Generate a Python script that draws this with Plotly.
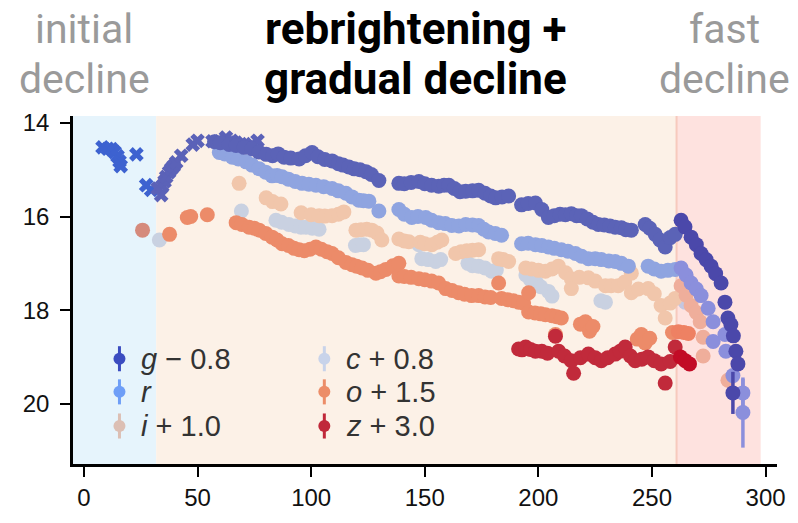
import plotly.graph_objects as go

# ---------------- data (plotted magnitudes, offsets already applied) ----------------
g_cross_t = [8.2, 10.5, 12.2, 13.5, 14.8, 15.7, 16.2, 23.1, 27.4, 29.6,
             32.5, 34.0, 34.5, 35.5, 36.2, 37.5, 38.4, 39.5, 40.6, 42.8, 47.9, 50.0,
             56.6, 59.0, 62.5, 65.0, 66.9, 69.0, 71.3, 74.0, 76.4]
g_cross_m = [14.52, 14.55, 14.56, 14.62, 14.71, 14.82, 14.92, 14.67, 15.33, 15.43,
             15.40, 15.54, 15.35, 15.25, 15.15, 15.05, 14.98, 14.92, 14.84, 14.70, 14.46, 14.38,
             14.39, 14.40, 14.31, 14.38, 14.42, 14.45, 14.49, 14.45, 14.38]

g_t = [57.5, 60, 63.9, 67, 70.5, 74, 77, 80.2, 83, 85.5, 88.1, 91, 94.7, 97.5, 100.4, 103, 106,
       109.2, 112, 114, 116.6, 119, 121.5, 124.1, 126.5, 129.8, 138.6, 141, 144, 147.4, 150, 153,
       156.1, 158.5, 160.6, 163, 165.5, 168, 171, 173.7, 176.5, 179, 181.2, 184, 186.9, 192.6,
       195.5, 198.7, 201.5, 204.4, 207, 209.5, 211.9, 214.5, 216.8, 218.9, 221.5, 224, 226.4, 229,
       231.5, 233.8, 236.5, 238.5, 240.9, 247.0, 249, 251.4, 253.5, 255.8, 258, 260.2,
       262.8, 264.5, 267.2, 269.5, 271.6, 273.8, 276.0, 278, 280.4, 282.1, 283.4, 284.7, 285.8,
       286.9, 287.8, 285.6]
g_m = [14.40, 14.42, 14.46, 14.48, 14.52, 14.55, 14.62, 14.67, 14.70, 14.66, 14.73, 14.75, 14.77,
       14.70, 14.63, 14.72, 14.78, 14.81, 14.87, 14.90, 14.94, 14.98, 15.00, 15.04, 15.10, 15.23,
       15.29, 15.30, 15.27, 15.25, 15.30, 15.33, 15.35, 15.33, 15.33, 15.40, 15.47, 15.46, 15.45,
       15.44, 15.50, 15.56, 15.60, 15.58, 15.56, 15.75, 15.72, 15.71, 15.85, 16.02, 15.98, 15.95,
       15.96, 15.94, 15.98, 15.98, 16.05, 16.12, 16.17, 16.18, 16.20, 16.23, 16.24, 16.28, 16.29,
       16.17, 16.25, 16.38, 16.50, 16.65, 16.45, 16.38,
       16.08, 16.22, 16.44, 16.60, 16.79, 16.92, 17.06, 17.22, 17.42, 17.83, 18.17, 18.31, 18.55,
       18.88, 19.15, 19.77]
g_err = [0] * (len(g_t) - 1) + [0.45]

r_t = [59.6, 62, 65.3, 68, 71.4, 74, 77.1, 80, 82.8, 85, 87.2, 90, 93, 96.0, 99, 102.1, 105.5,
       109.2, 112, 115.3, 118, 121.0, 123, 125.4, 129.8, 138.6, 141, 144.3, 147, 150.4, 153, 156.1,
       159, 161.9, 165, 168.0, 171, 173.7, 176, 178.1, 181, 183.8, 192.6, 195.5, 198.7, 201.5,
       204.4, 207, 210.1, 213, 216.3, 219, 222.0, 225, 227.7, 231, 233.8, 236.5, 239.6, 248.3, 251,
       254.0, 257, 260.2,
       262.8, 265, 267.2, 269.5, 271.6, 274.7, 276.9, 276.9, 282.1, 282.5, 285.6, 290.0, 290.0]
r_m = [14.63, 14.66, 14.73, 14.77, 14.83, 14.90, 14.98, 15.05, 15.13, 15.12, 15.15, 15.20, 15.25,
       15.29, 15.31, 15.33, 15.36, 15.40, 15.45, 15.50, 15.58, 15.65, 15.66, 15.67, 15.88, 15.85,
       15.95, 16.02, 16.00, 16.02, 16.08, 16.13, 16.15, 16.19, 16.20, 16.17, 16.18, 16.19, 16.27,
       16.33, 16.36, 16.40, 16.58, 16.57, 16.60, 16.62, 16.65, 16.68, 16.71, 16.74, 16.79, 16.85,
       16.90, 16.90, 16.92, 16.95, 16.96, 17.00, 17.06, 17.06, 17.12, 17.17, 17.15, 17.13,
       17.10, 17.25, 17.42, 17.55, 17.69, 17.96, 18.25, 18.67, 18.52, 18.88, 19.40, 19.77, 20.19]
r_err = [0] * (len(r_t) - 2) + [0.3, 0.75]

i_t = [68.3, 80.2, 83, 86.7, 95.6, 100, 103.5, 106, 109.2, 112, 114.4, 119.7, 122, 124.5, 126.7,
       129, 131.1, 138.6, 141, 143.0, 148, 150, 153.1, 155.5, 157.5, 163.6, 166, 168.5, 171, 173.7,
       182.5, 184.5, 186.9, 194.4, 197, 200, 203.1, 206, 208.8, 212, 214.5, 214.5, 218, 222.0, 225,
       229.5, 232, 235.1, 238, 240.9, 240.9, 244, 248.3, 251, 254.0, 255.8, 258, 260.2,
       262.8, 265, 267.2, 269.5, 271.2, 272.5, 272.5, 283.4]
i_m = [15.29, 15.60, 15.68, 15.73, 15.92, 15.96, 15.98, 15.99, 15.98, 15.95, 15.90, 16.29, 16.28,
       16.27, 16.29, 16.35, 16.50, 16.48, 16.52, 16.54, 16.55, 16.58, 16.60, 16.55, 16.50, 16.79,
       16.75, 16.73, 16.72, 16.71, 16.90, 16.92, 16.96, 17.10, 17.12, 17.15, 17.17, 17.12, 17.06,
       17.20, 17.33, 17.54, 17.30, 17.31, 17.38, 17.48, 17.48, 17.48, 17.40, 17.21, 17.63, 17.55,
       17.54, 17.65, 17.90, 18.17, 17.85, 17.75,
       17.48, 17.68, 17.90, 18.05, 18.25, 18.58, 18.98, 19.50]

c_t = [33.2, 69.3, 84.5, 87, 90.2, 93, 95.5, 97.7, 100.5, 103.5, 119.5, 121.0, 123, 147.4, 148.7,
       151.5, 154.8, 157, 169, 171, 173.7, 176.5, 179.4, 181.5, 194.5, 196.5, 199, 201, 204.4, 206,
       227.5, 229.5, 264.6]
c_m = [16.50, 15.88, 16.08, 16.12, 16.17, 16.20, 16.23, 16.23, 16.25, 16.27, 16.62, 16.60, 16.60,
       16.60, 16.90, 16.92, 16.96, 16.92, 17.00, 17.05, 17.06, 17.10, 17.17, 17.14, 17.25, 17.35,
       17.40, 17.50, 17.60, 17.70, 17.80, 17.83, 17.83]

o_t = [25.8, 37.7, 45.5, 47, 54.3, 67.0, 69.5, 72.7, 75, 77.1, 80, 82.8, 85, 87.2, 90, 92.5, 94.7,
       97, 99.5, 102.1, 104.5, 107, 109.2, 112, 115.3, 118, 120, 122.4, 125, 128.5, 130.5, 132.9,
       136, 138.6, 138.6, 141, 144, 147.4, 150, 153, 156.1, 159.2, 162, 164.9, 167.5, 170.6, 173.7,
       176.5, 179, 182.5, 183.8, 186.5, 189, 191.3, 193.5, 195.7, 195.7, 198.5, 201, 203.1, 206,
       208, 210.1, 207.5, 218.5, 220.7, 222.5, 224, 243.5, 245.3, 247, 249, 259, 261.6, 264, 266]
o_m = [16.29, 16.38, 16.02, 16.00, 15.96, 16.13, 16.17, 16.23, 16.25, 16.29, 16.36, 16.44, 16.50,
       16.58, 16.62, 16.68, 16.71, 16.73, 16.70, 16.65, 16.70, 16.75, 16.79, 16.88, 16.98, 17.03,
       17.06, 17.10, 17.15, 17.21, 17.18, 17.13, 17.05, 17.00, 17.27, 17.28, 17.30, 17.33, 17.35,
       17.38, 17.42, 17.54, 17.58, 17.63, 17.66, 17.69, 17.69, 17.72, 17.73, 17.42, 17.75, 17.78,
       17.80, 17.83, 17.85, 17.63, 18.04, 18.06, 18.08, 18.10, 18.12, 18.14, 18.17, 18.52, 18.30,
       18.25, 18.45, 18.35, 18.62, 18.52, 18.70, 18.60, 18.48, 18.46, 18.48, 18.50]

z_t = [191.3, 192.8, 194.4, 196.5, 198.7, 201.5, 204, 207.5, 208.9, 211.5, 214.5, 215.5, 218.5,
       222.0, 225, 227.7, 230.5, 233.8, 236, 238.2, 240.5, 242.6, 245.5, 248.3, 251, 254.0, 255.8,
       258, 260.2, 262.5, 264.6, 266.5]
z_m = [18.83, 18.85, 18.79, 18.84, 18.88, 18.88, 18.92, 18.56, 18.88, 18.98, 19.08, 19.35, 19.02,
       18.94, 19.02, 19.08, 19.02, 18.94, 18.88, 18.79, 18.98, 19.08, 19.05, 19.00, 19.08, 19.15,
       19.56, 19.10, 18.79, 19.00, 19.08, 19.15]

legend_labels = ["<i>g</i> − 0.8", "<i>r</i>", "<i>i</i> + 1.0",
                 "<i>c</i> + 0.8", "<i>o</i> + 1.5", "<i>z</i> + 3.0"]
legend_colors = ["#3b4cc0", "#6e9ef7", "#dcbfb4", "#c8d3ea", "#ec8d68", "#c0283a"]

x_ticks = [0, 50, 100, 150, 200, 250, 300]
y_ticks = [14, 16, 18, 20]
phase_edges = [-4.8, 31.8, 260.8, 297.8]
phase_titles = [["initial", "decline"], ["rebrightening +", "gradual decline"], ["fast", "decline"]]

# ---------------- styling ----------------
FONT = "Liberation Sans"
T_FAST = phase_edges[2]
T_EARLY = phase_edges[1]


def colors_for(ts, base, fast, early=None):
    out = []
    for t in ts:
        if t >= T_FAST:
            out.append(fast)
        elif early is not None and t < T_EARLY:
            out.append(early)
        else:
            out.append(base)
    return out


fig = go.Figure()

# phase shading
shade_cols = ["#e6f4fc", "#fcf1e7", "#fee2df"]
for k in range(3):
    fig.add_shape(type="rect", xref="x", yref="paper", x0=phase_edges[k], x1=phase_edges[k + 1],
                  y0=0, y1=1, fillcolor=shade_cols[k], line_width=0, layer="below")
fig.add_shape(type="line", xref="x", yref="paper", x0=phase_edges[2], x1=phase_edges[2],
              y0=0, y1=1, line=dict(color="#f7cabd", width=2), layer="below")

MS = 15


def add_series(ts, ms, cols, symbol="circle", err=None, size=MS):
    kw = {}
    if err is not None:
        kw["error_y"] = dict(type="data", array=err, visible=True, thickness=3.5, width=0,
                             color=cols[-1])
    fig.add_trace(go.Scatter(x=ts, y=ms, mode="markers", showlegend=False, hoverinfo="skip",
                             marker=dict(size=size, color=cols, symbol=symbol, line_width=0), **kw))


# draw order (bottom to top)
add_series(c_t, c_m, colors_for(c_t, "#c9d1e1", "#c4c6e0", "#c8d3e6"))
add_series(i_t, i_m, colors_for(i_t, "#f1c6ab", "#efae9b"))
add_series(o_t, o_m, colors_for(o_t, "#ec8b69", "#ee8163", "#d58a7c"))
add_series(z_t, z_m, colors_for(z_t, "#c12a3b", "#c20c26"))
add_series(r_t, r_m, colors_for(r_t, "#8fa4e0", "#8b8fdc"), err=r_err)
add_series(g_cross_t, g_cross_m, colors_for(g_cross_t, "#5b62b8", "#5b62b8", "#3d62d0"),
           symbol="x", size=13)
add_series(g_t, g_m, colors_for(g_t, "#5b63b7", "#4b48aa"), err=g_err)

# ---------------- custom legend (overlay axes in 0..1 units) ----------------
leg_key_x = [0.066, 0.066, 0.066, 0.357, 0.357, 0.357]
leg_txt_x = [0.094, 0.094, 0.094, 0.385, 0.385, 0.385]
leg_row_y = [0.3025, 0.2073, 0.1092, 0.3025, 0.2073, 0.1092]
for k in range(6):
    fig.add_trace(go.Scatter(x=[leg_key_x[k]], y=[leg_row_y[k]], xaxis="x2", yaxis="y2",
                             mode="markers", showlegend=False, hoverinfo="skip",
                             marker=dict(size=12, color=legend_colors[k], line_width=0),
                             error_y=dict(type="constant", value=0.036, thickness=3, width=0,
                                          color=legend_colors[k])))
    fig.add_annotation(text=legend_labels[k], xref="paper", yref="paper", x=leg_txt_x[k],
                       y=leg_row_y[k], xanchor="left", yanchor="middle", showarrow=False,
                       font=dict(family=FONT, size=29, color="#333333"))

axis_common = dict(showline=True, linecolor="black", linewidth=2.5, ticks="outside", ticklen=10,
                   tickwidth=2, tickcolor="black", showgrid=False, zeroline=False, mirror=False,
                   tickfont=dict(family=FONT, size=24, color="#111111"))

fig.update_layout(
    width=798, height=523,
    margin=dict(l=73, r=19, t=116, b=50, pad=0),
    paper_bgcolor="white", plot_bgcolor="white",
    showlegend=False,
    xaxis=dict(range=[-4.8, 305], tickvals=x_ticks, **axis_common),
    yaxis=dict(range=[21.29, 13.85], tickvals=y_ticks, ticklabelstandoff=6, **axis_common),
    xaxis2=dict(overlaying="x", range=[0, 1], visible=False, fixedrange=True),
    yaxis2=dict(overlaying="y", range=[0, 1], visible=False, fixedrange=True),
)

# phase titles
title_x = [0.016, 0.487, 0.926]
title_y = [1.25, 1.107]
for k in range(3):
    emph = (k == 1)
    for j in range(2):
        txt = phase_titles[k][j]
        fig.add_annotation(text=("<b>%s</b>" % txt) if emph else txt, xref="paper",
                           yref="paper", x=title_x[k], y=title_y[j], xanchor="center",
                           yanchor="middle", showarrow=False,
                           font=dict(family="Roboto", size=44 if emph else 41,
                                     color="#000000" if emph else "#9a9a9a"))

fig.write_html("out.html", config={"displayModeBar": False},
               post_script="document.body.style.margin='0px';")
